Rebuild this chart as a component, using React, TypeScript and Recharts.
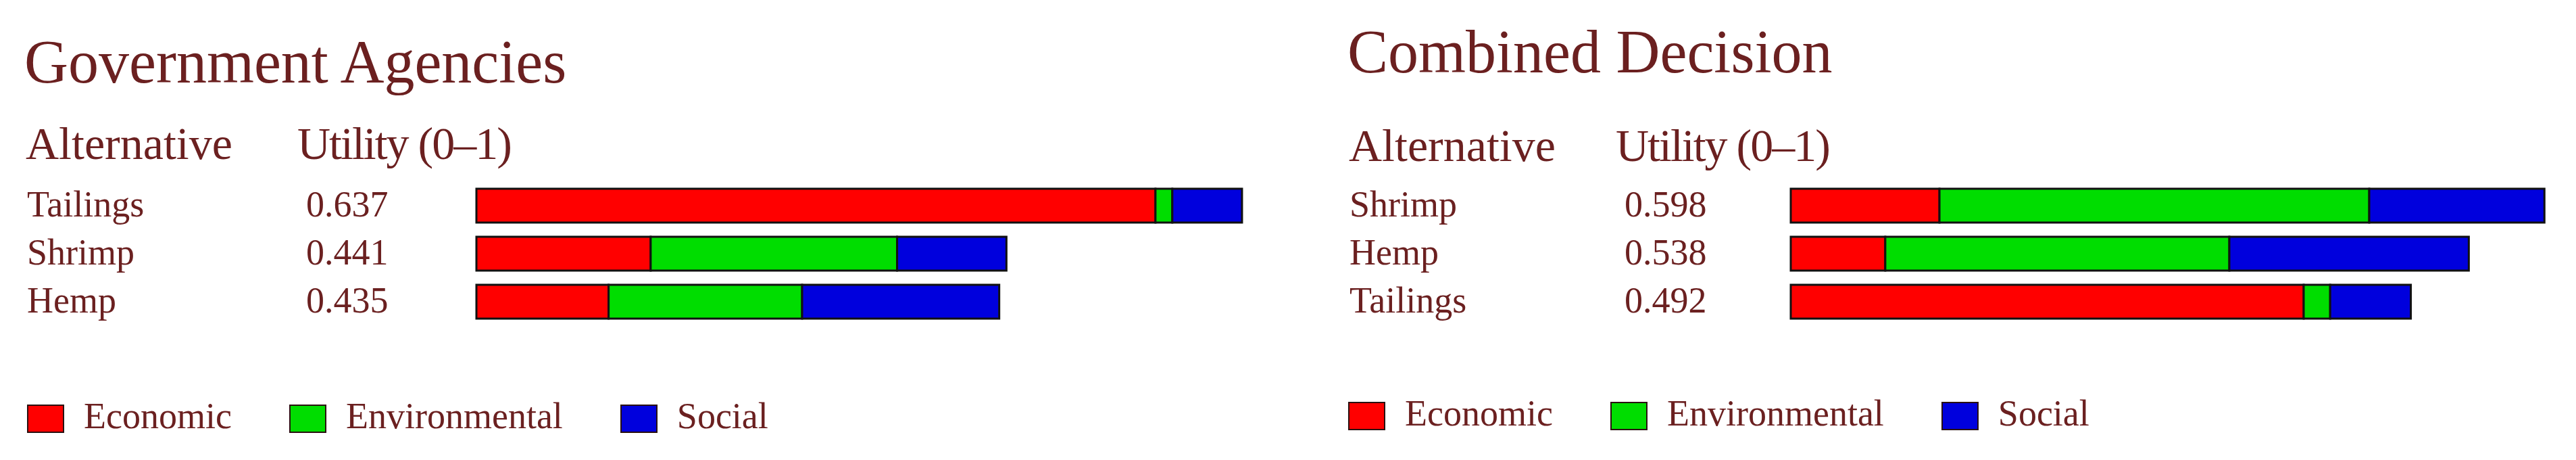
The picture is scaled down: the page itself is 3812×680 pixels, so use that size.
import { BarChart, Bar, XAxis, YAxis } from 'recharts';

// criteria (series) shared by both panels
const criteria = ['Economic', 'Environmental', 'Social'];
const criteriaColors = ['#ff0000', '#00dd00', '#0000dd'];

// Government Agencies
const govAlternatives = ['Tailings', 'Shrimp', 'Hemp'];
const govUtility = [0.637, 0.441, 0.435];
const govEconomic = [0.565, 0.145, 0.110];
const govEnvironmental = [0.014, 0.205, 0.161];
const govSocial = [0.058, 0.091, 0.164];

// Combined Decision
const combAlternatives = ['Shrimp', 'Hemp', 'Tailings'];
const combUtility = [0.598, 0.538, 0.492];
const combEconomic = [0.118, 0.075, 0.407];
const combEnvironmental = [0.341, 0.273, 0.021];
const combSocial = [0.139, 0.190, 0.064];

const TEXT = '#6b2020';
const FONT = '"Liberation Serif", "Times New Roman", serif';

function buildRows(names: string[], utility: number[], eco: number[], env: number[], soc: number[]) {
  return names.map((name, i) => ({
    name,
    utility: utility[i],
    Economic: eco[i],
    Environmental: env[i],
    Social: soc[i],
  }));
}

const govData = buildRows(govAlternatives, govUtility, govEconomic, govEnvironmental, govSocial);
const combData = buildRows(combAlternatives, combUtility, combEconomic, combEnvironmental, combSocial);

type Row = ReturnType<typeof buildRows>[number];

// row label + utility value, placed on the category band
function RowTick(props: any) {
  const { y, payload, rows, nameX, valueX } = props;
  const row = (rows as Row[]).find((r) => r.name === payload.value);
  return (
    <g>
      <text x={nameX} y={y} dy={16} fontSize={54} fill={TEXT} fontFamily={FONT}>
        {payload.value}
      </text>
      <text x={valueX} y={y} dy={16} fontSize={54} fill={TEXT} fontFamily={FONT}>
        {row ? row.utility.toFixed(3) : ''}
      </text>
    </g>
  );
}

function LegendRow({ left, top }: { left: number; top: number }) {
  return (
    <div style={{ position: 'absolute', left, top, display: 'flex', alignItems: 'flex-start', fontFamily: FONT }}>
      {criteria.map((c, i) => (
        <div key={c} style={{ display: 'flex', alignItems: 'flex-start', marginRight: 85 }}>
          <div
            style={{
              width: 51, height: 38, marginTop: 10, marginRight: 29,
              background: criteriaColors[i], border: '2px solid #2a1010',
            }}
          />
          <span style={{ fontSize: 54, lineHeight: '54px', color: TEXT, whiteSpace: 'nowrap' }}>{c}</span>
        </div>
      ))}
    </div>
  );
}

interface PanelProps {
  data: Row[];
  left: number;
  width: number;
  plotLeft: number;
  plotRight: number;
  maxX: number;
  nameX: number;
  valueX: number;
}

function Panel({ data, left, width, plotLeft, plotRight, maxX, nameX, valueX }: PanelProps) {
  const axisWidth = 100;
  return (
    <div style={{ position: 'absolute', left, top: 0 }}>
      <BarChart
        width={width}
        height={680}
        data={data}
        layout="vertical"
        barSize={50}
        margin={{ top: 268, bottom: 199, left: plotLeft - axisWidth, right: plotRight }}
      >
        <XAxis type="number" domain={[0, maxX]} hide />
        <YAxis
          type="category"
          dataKey="name"
          width={axisWidth}
          axisLine={false}
          tickLine={false}
          tick={<RowTick rows={data} nameX={nameX} valueX={valueX} />}
        />
        {criteria.map((c, i) => (
          <Bar
            key={c}
            dataKey={c}
            stackId="u"
            fill={criteriaColors[i]}
            stroke="#111"
            strokeWidth={3}
            isAnimationActive={false}
          />
        ))}
      </BarChart>
    </div>
  );
}

export default function App() {
  return (
    <div style={{ position: 'absolute', left: 0, top: 0, width: 3812, height: 680, background: '#fff', overflow: 'hidden' }}>
      <Panel data={govData} left={0} width={1960} plotLeft={705} plotRight={10} maxX={0.7} nameX={40} valueX={453} />
      <Panel data={combData} left={1960} width={1852} plotLeft={690} plotRight={43} maxX={0.6} nameX={37} valueX={444} />

      <svg width={3812} height={680} style={{ position: 'absolute', left: 0, top: 0, pointerEvents: 'none' }}>
        <g fill={TEXT} fontFamily={FONT}>
          <text x={36} y={122} fontSize={90}>Government Agencies</text>
          <text x={38} y={235} fontSize={68}>Alternative</text>
          <text x={440} y={235} fontSize={68} letterSpacing={-2}>Utility (0–1)</text>

          <text x={1994} y={107} fontSize={90}>Combined Decision</text>
          <text x={1996} y={238} fontSize={68}>Alternative</text>
          <text x={2391} y={238} fontSize={68} letterSpacing={-2}>Utility (0–1)</text>
        </g>
      </svg>

      <LegendRow left={40} top={588} />
      <LegendRow left={1995} top={584} />
    </div>
  );
}
